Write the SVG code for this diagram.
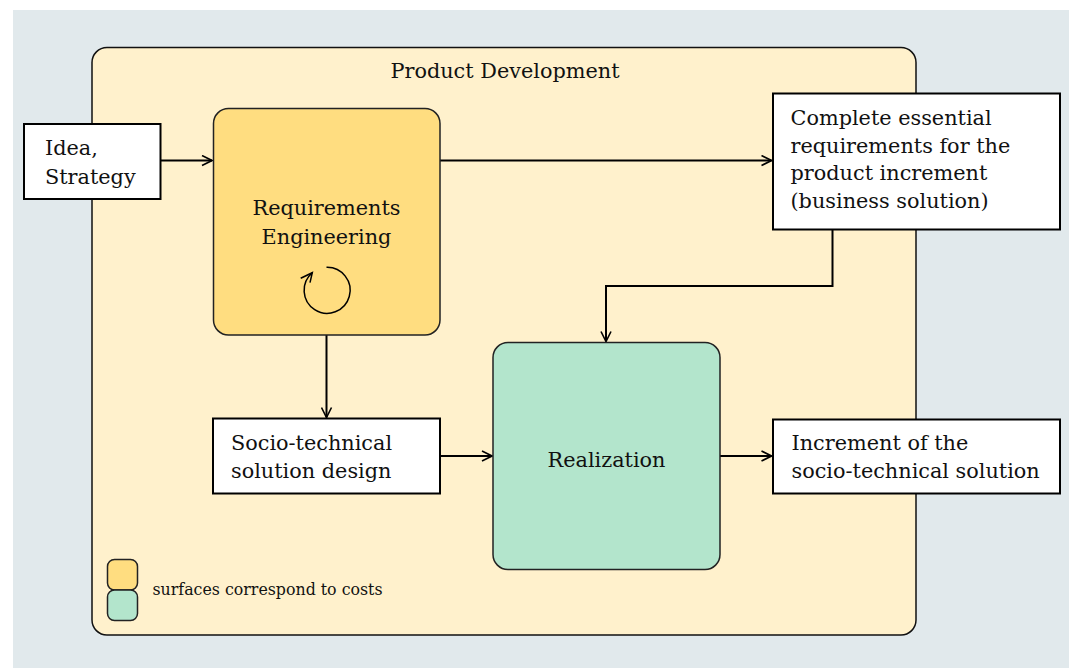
<svg xmlns="http://www.w3.org/2000/svg" width="1069" height="668" viewBox="0 0 1069 668">
<defs>
<style>
text{font-family:"DejaVu Serif","Liberation Serif",serif;font-size:20.8px;fill:#111}
.box{fill:#fff;stroke:#000;stroke-width:2}
.rbox{stroke:#222;stroke-width:1.5}
.conn{fill:none;stroke:#000;stroke-width:2}
.small{font-size:15.8px}
</style>
<marker id="arr" viewBox="0 0 12 12" refX="11" refY="6" markerWidth="12" markerHeight="12" markerUnits="userSpaceOnUse" orient="auto">
<path d="M1,1 L11,6 L1,11" fill="none" stroke="#000" stroke-width="1.6"/>
</marker>
</defs>
<rect x="13" y="10" width="1056" height="658" fill="#e1e9ec"/>
<g id="container">
<rect x="92" y="47.5" width="824" height="587.5" rx="15" fill="#fff1cc" stroke="#111" stroke-width="1.5"/>
<text x="505" y="78" text-anchor="middle">Product Development</text>
</g>
<g id="connectors">
<path class="conn" d="M160.5,160.5 H212" marker-end="url(#arr)"/>
<path class="conn" d="M440,160.5 H771.5" marker-end="url(#arr)"/>
<path class="conn" d="M326.5,335 V417.5" marker-end="url(#arr)"/>
<path class="conn" d="M832.5,229 V286 H606 V341.5" marker-end="url(#arr)"/>
<path class="conn" d="M440,456 H492" marker-end="url(#arr)"/>
<path class="conn" d="M720,456 H771.5" marker-end="url(#arr)"/>
</g>
<g id="idea">
<rect class="box" x="24" y="124" width="136.5" height="75"/>
<text x="45" y="155">Idea,</text>
<text x="45" y="183.5">Strategy</text>
</g>
<g id="req">
<rect class="rbox" x="213.5" y="108.5" width="226.5" height="226.5" rx="15" fill="#ffdd80"/>
<text x="326.5" y="215" text-anchor="middle">Requirements</text>
<text x="326.5" y="244" text-anchor="middle">Engineering</text>
<path d="M326.5,267.3 A23,23 0 1 1 312.3,272.7" fill="none" stroke="#000" stroke-width="1.5"/>
<path d="M300.7,278.3 L312.3,272.7 L310,282.7" fill="none" stroke="#000" stroke-width="1.5"/>
</g>
<g id="complete">
<rect class="box" x="773" y="93.5" width="287" height="136"/>
<text x="790.5" y="125">Complete essential</text>
<text x="790.5" y="152.7">requirements for the</text>
<text x="790.5" y="180.3">product increment</text>
<text x="790.5" y="208">(business solution)</text>
</g>
<g id="socio">
<rect class="box" x="213" y="418.5" width="227" height="75"/>
<text x="231" y="450">Socio-technical</text>
<text x="231" y="478.3">solution design</text>
</g>
<g id="realization">
<rect class="rbox" x="493" y="342.5" width="227" height="227" rx="15" fill="#b3e5cc"/>
<text x="606.5" y="467.3" text-anchor="middle">Realization</text>
</g>
<g id="increment">
<rect class="box" x="773" y="419.5" width="287" height="74"/>
<text x="791.5" y="450">Increment of the</text>
<text x="791.5" y="478.3">socio-technical solution</text>
</g>
<g id="legend">
<rect class="rbox" x="107.5" y="559.5" width="30" height="30.5" rx="7" fill="#ffdd80"/>
<rect class="rbox" x="107.5" y="590" width="30" height="30.5" rx="7" fill="#b3e5cc"/>
<text class="small" x="152.5" y="595">surfaces correspond to costs</text>
</g>
</svg>
